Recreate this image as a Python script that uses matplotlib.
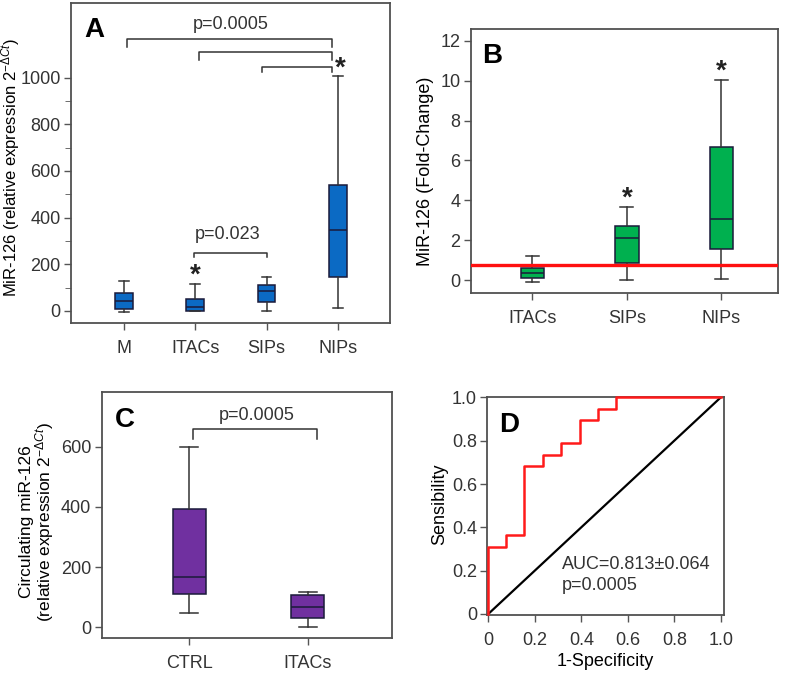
import numpy as np
import matplotlib
matplotlib.use("Agg")
import matplotlib.pyplot as plt

plt.rcParams['font.family'] = ['Liberation Sans', 'DejaVu Sans']
plt.rcParams['mathtext.fontset'] = 'custom'
plt.rcParams['mathtext.rm'] = 'Liberation Sans'
plt.rcParams['mathtext.it'] = 'Liberation Sans:italic'
plt.rcParams['text.color'] = '#333333'
plt.rcParams['xtick.color'] = '#555555'
plt.rcParams['ytick.color'] = '#555555'
plt.rcParams['xtick.labelcolor'] = '#333333'
plt.rcParams['ytick.labelcolor'] = '#333333'
plt.rcParams['axes.edgecolor'] = '#505050'

# panel A: tissue miR-126 (relative expression)
a_groups = ['M', 'ITACs', 'SIPs', 'NIPs']
a_wlo = [-6, 0, 0, 12]
a_q1 = [10, 0, 36, 147]
a_med = [44, 16, 86, 345]
a_q3 = [78, 50, 109, 538]
a_whi = [129, 113, 143, 1006]

# panel B: fold change
b_groups = ['ITACs', 'SIPs', 'NIPs']
b_wlo = [-0.08, 0.0, 0.07]
b_q1 = [0.08, 0.84, 1.56]
b_med = [0.37, 2.13, 3.08]
b_q3 = [0.62, 2.73, 6.7]
b_whi = [1.2, 3.65, 10.05]
b_ref = 0.76

# panel C: circulating miR-126
c_groups = ['CTRL', 'ITACs']
c_wlo = [49, 0]
c_q1 = [110, 30]
c_med = [166, 69]
c_q3 = [392, 108]
c_whi = [597, 116]

# panel D: ROC curve
roc_fpr = [0, 0, 0.077, 0.077, 0.155, 0.155, 0.235, 0.235, 0.314, 0.314,
           0.393, 0.393, 0.47, 0.47, 0.549, 0.549, 1.0]
roc_tpr = [0, 0.311, 0.311, 0.365, 0.365, 0.685, 0.685, 0.734, 0.734, 0.791,
           0.791, 0.895, 0.895, 0.946, 0.946, 1.0, 1.0]


def stats(wlo, q1, med, q3, whi):
    return [dict(whislo=a, q1=b, med=c, q3=d, whishi=e, fliers=[])
            for a, b, c, d, e in zip(wlo, q1, med, q3, whi)]


def boxes(ax, st, color, width=0.25):
    ax.bxp(st, positions=np.arange(1, len(st) + 1), widths=width,
           patch_artist=True, showfliers=False, capwidths=width * 0.55,
           boxprops=dict(facecolor=color, edgecolor='#1a1a3a', linewidth=1.1),
           medianprops=dict(color='#1a1a3a', linewidth=1.1),
           whiskerprops=dict(color='#333333', linewidth=1.1),
           capprops=dict(color='#333333', linewidth=1.1))


def bracket(ax, x1, x2, y, drop):
    ax.plot([x1, x1, x2, x2], [y - drop, y, y, y - drop], color='#333333',
            lw=1.1, clip_on=False)


def style(ax):
    for s in ax.spines.values():
        s.set_linewidth(1.3)
    ax.tick_params(labelsize=13, length=5, width=1.0, direction='out')
    ax.tick_params(axis='y', pad=2.5)
    ax.tick_params(axis='x', pad=7)


def star(ax, x, y):
    ax.text(x, y, '*', ha='center', va='center', fontsize=20,
            fontweight='bold', color='#222222')


def letter(ax, x, y, s):
    ax.text(x, y, s, ha='left', va='baseline', fontsize=20,
            fontweight='bold', color='black')


fig = plt.figure(figsize=(7.87, 6.74), dpi=100)

# ---- A
ax = fig.add_axes([0.0902, 0.5208, 0.4054, 0.4748])
boxes(ax, stats(a_wlo, a_q1, a_med, a_q3, a_whi), '#0b6ac4')
ax.set_xlim(0.26, 4.73)
ax.set_ylim(-52, 1320)
ax.set_yticks(range(0, 1001, 200))
ax.set_yticks(range(100, 1000, 200), minor=True)
ax.tick_params(axis='y', which='minor', length=4, color='#555555')
ax.set_xticks(range(1, 5))
ax.set_xticklabels(a_groups)
style(ax)
ax.set_ylabel(r'MiR-126 (relative expression 2$^{-\Delta Ct}$)', fontsize=12)
ax.yaxis.set_label_coords(-0.155, 0.486)
bracket(ax, 1.05, 3.92, 1167, 34)
bracket(ax, 2.05, 3.92, 1110, 33)
bracket(ax, 2.93, 3.92, 1047, 21)
ax.text(2.5, 1227, 'p=0.0005', ha='center', va='center', fontsize=13)
bracket(ax, 1.98, 3.0, 250, 19)
ax.text(2.45, 326, 'p=0.023', ha='center', va='center', fontsize=13)
star(ax, 2.0, 150)
star(ax, 4.03, 1040)
letter(ax, 0.453, 1176, 'A')

# ---- B
ax = fig.add_axes([0.5985, 0.5653, 0.3901, 0.3917])
boxes(ax, stats(b_wlo, b_q1, b_med, b_q3, b_whi), '#00b04f')
ax.axhline(b_ref, color='#ff1010', lw=2.4, zorder=5)
ax.set_xlim(0.35, 3.6)
ax.set_ylim(-0.65, 12.6)
ax.set_yticks(range(0, 13, 2))
ax.set_xticks(range(1, 4))
ax.set_xticklabels(b_groups)
style(ax)
ax.set_ylabel('MiR-126 (Fold-Change)', fontsize=13)
ax.yaxis.set_label_coords(-0.12, 0.46)
star(ax, 2.0, 4.1)
star(ax, 3.0, 10.45)
letter(ax, 0.47, 10.9, 'B')

# ---- C
ax = fig.add_axes([0.1292, 0.0530, 0.3685, 0.365])
boxes(ax, stats(c_wlo, c_q1, c_med, c_q3, c_whi), '#7030a0', width=0.28)
ax.set_xlim(0.26, 2.71)
ax.set_ylim(-36, 780)
ax.set_yticks(range(0, 601, 200))
ax.set_xticks([1, 2])
ax.set_xticklabels(c_groups)
style(ax)
ax.set_ylabel('Circulating miR-126\n' + r'(relative expression 2$^{-\Delta Ct}$)',
              fontsize=12.5, linespacing=0.95)
ax.yaxis.set_label_coords(-0.156, 0.474)
bracket(ax, 1.03, 2.08, 658, 33)
ax.text(1.57, 702, 'p=0.0005', ha='center', va='center', fontsize=13)
letter(ax, 0.374, 665, 'C')

# ---- D
ax = fig.add_axes([0.6192, 0.0871, 0.3008, 0.3243])
ax.plot([0, 1], [0, 1], color='black', lw=1.6)
ax.plot(roc_fpr, roc_tpr, color='#ff1a1a', lw=1.8, clip_on=False, zorder=4)
ax.set_xlim(-0.004, 1.014)
ax.set_ylim(-0.006, 1.003)
ax.set_xticks(np.arange(0, 1.01, 0.2))
ax.set_xticklabels(['0', '0.2', '0.4', '0.6', '0.8', '1.0'])
ax.set_yticks(np.arange(0, 1.01, 0.2))
ax.set_yticklabels(['0', '0.2', '0.4', '0.6', '0.8', '1.0'])
style(ax)
ax.set_xlabel('1-Specificity', fontsize=13)
ax.xaxis.set_label_coords(0.5, -0.172)
ax.set_ylabel('Sensibility', fontsize=13)
ax.yaxis.set_label_coords(-0.166, 0.51)
ax.text(0.318, 0.23, u'AUC=0.813\u00b10.064', ha='left', va='center', fontsize=13)
ax.text(0.318, 0.13, 'p=0.0005', ha='left', va='center', fontsize=13)
letter(ax, 0.046, 0.841, 'D')

fig.savefig('out.png', dpi=100)
